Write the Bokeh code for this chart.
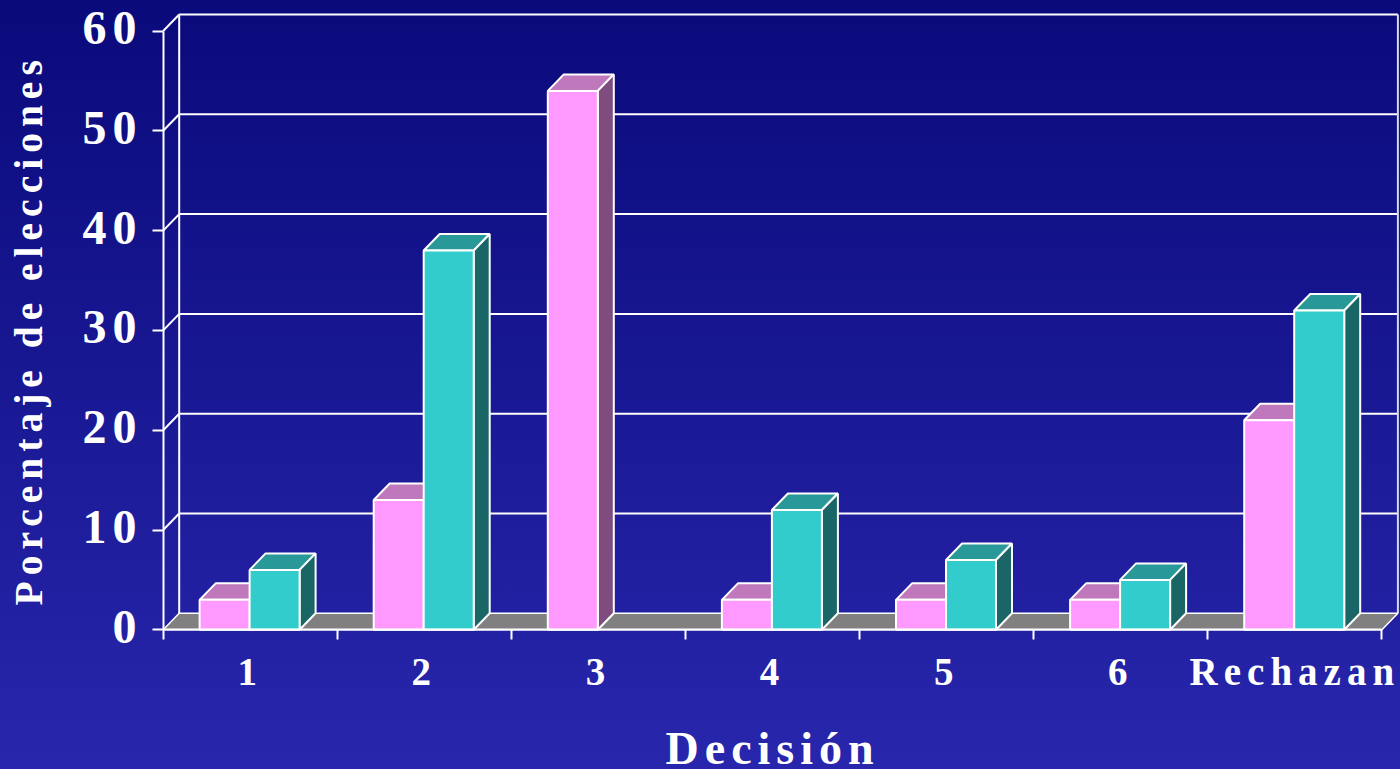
from math import pi
from bokeh.core.properties import value
from bokeh.plotting import figure
from bokeh.models import Range1d, FixedTicker, LinearAxis
from bokeh.embed import file_html
from bokeh.resources import INLINE

categories = ["1", "2", "3", "4", "5", "6", "Rechazan"]
pink_values = [3, 13, 54, 3, 3, 3, 21]
teal_values = [6, 38, None, 12, 7, 5, 32]
y_ticks = [0, 10, 20, 30, 40, 50, 60]
y_title = "Porcentaje de elecciones"
x_title = "Decisión"

PX_X = 174.1
PX_Y = 9.98
LEFT, BASE = 162.7, 629.3
W, H = 1400, 769
DEPTH_X = 16.0 / PX_X
DEPTH_Y = 16.5 / PX_Y
BAR_W = 50.0 / PX_X
BAR_START = 36.4 / PX_X
SPACING = 6
WHITE = "#ffffff"
FONT = "Liberation Serif"
X_LABEL_PX, Y_LABEL_PX, X_TITLE_PX, Y_TITLE_PX = 39, 48, 46, 39.5


def data_x(px):
    return (px - LEFT) / PX_X


def data_y(px):
    return (BASE - px) / PX_Y


p = figure(width=W, height=H, output_backend="svg", toolbar_location=None,
           x_axis_type=None, y_axis_type=None,
           x_range=Range1d(data_x(0), data_x(W)), y_range=Range1d(data_y(H), data_y(0)),
           min_border_left=0, min_border_right=0, min_border_top=0, min_border_bottom=0,
           margin=(0, 0, 0, 0),
           styles={"background": "linear-gradient(180deg, #0a0a7b 0%, #2826ac 100%)",
                   "letter-spacing": f"{SPACING}px"})
p.background_fill_color = None
p.border_fill_color = None
p.outline_line_color = None
p.grid.visible = False

n = len(categories)
top = y_ticks[-1]
upper = y_ticks[1:]

p.segment(x0=[DEPTH_X] * len(upper), y0=[t + DEPTH_Y for t in upper],
          x1=[n + DEPTH_X] * len(upper), y1=[t + DEPTH_Y for t in upper],
          line_color=WHITE, line_width=2)
p.segment(x0=[0] * len(upper), y0=upper,
          x1=[DEPTH_X] * len(upper), y1=[t + DEPTH_Y for t in upper],
          line_color=WHITE, line_width=2)
p.segment(x0=[DEPTH_X, n + DEPTH_X], y0=[DEPTH_Y, DEPTH_Y],
          x1=[DEPTH_X, n + DEPTH_X], y1=[top + DEPTH_Y, top + DEPTH_Y],
          line_color=["#ffffff", "#d8d8e8"], line_width=2)

p.patch(x=[0, n, n + DEPTH_X, DEPTH_X], y=[0, 0, DEPTH_Y, DEPTH_Y],
        fill_color="#808080", line_color=WHITE, line_width=1.5)


def draw_bars(values, slot, front, side, roof):
    xs, ys = [], []
    for i, v in enumerate(values):
        if v is None:
            continue
        xs.append(i + BAR_START + slot * BAR_W)
        ys.append(v)
    p.patches(xs=[[x, x + BAR_W, x + BAR_W + DEPTH_X, x + DEPTH_X] for x in xs],
              ys=[[v, v, v + DEPTH_Y, v + DEPTH_Y] for v in ys],
              fill_color=roof, line_color=WHITE, line_width=2)
    p.patches(xs=[[x + BAR_W, x + BAR_W + DEPTH_X, x + BAR_W + DEPTH_X, x + BAR_W] for x in xs],
              ys=[[0, DEPTH_Y, v + DEPTH_Y, v] for v in ys],
              fill_color=side, line_color=WHITE, line_width=2)
    p.quad(left=xs, right=[x + BAR_W for x in xs], bottom=[0] * len(ys), top=ys,
           fill_color=front, line_color=WHITE, line_width=2)


draw_bars(pink_values, 0, "#ff99ff", "#7f4c7f", "#c078bc")
draw_bars(teal_values, 1, "#33cccc", "#1a6666", "#289898")

bounds_ticks = list(range(n + 1))
xaxis = LinearAxis(
    fixed_location=0,
    ticker=FixedTicker(ticks=bounds_ticks),
    major_label_overrides={t: "" for t in bounds_ticks},
    bounds=(0, n),
    axis_line_color=WHITE, axis_line_width=2,
    major_tick_line_color=WHITE, major_tick_line_width=2, major_tick_in=0, major_tick_out=10,
    minor_tick_line_color=None)
yaxis = LinearAxis(
    fixed_location=0,
    ticker=FixedTicker(ticks=y_ticks),
    major_label_overrides={t: "" for t in y_ticks},
    bounds=(0, top),
    axis_line_color=WHITE, axis_line_width=2,
    major_tick_line_color=WHITE, major_tick_line_width=2, major_tick_in=0, major_tick_out=11,
    minor_tick_line_color=None)
p.add_layout(xaxis, "below")
p.add_layout(yaxis, "left")


def put_text(xs, ys, texts, size, angle=0.0):
    p.text(x=xs, y=ys, text=texts, angle=angle, text_color=WHITE, text_font=value(FONT),
           text_font_style="bold", text_font_size=value(f"{size}px"),
           text_align="left", text_baseline="alphabetic")


em_width = [4.166 if len(c) > 1 else 0.5 for c in categories]
x_starts = [i + 0.5 - (3 + (em * X_LABEL_PX + SPACING * (len(c) - 1)) / 2) / PX_X
            for i, (c, em) in enumerate(zip(categories, em_width))]
put_text(x_starts, [data_y(671)] * n, categories, X_LABEL_PX)

y_labels = [str(t) for t in y_ticks]
y_starts = [data_x(136 - len(c) * 0.5 * Y_LABEL_PX - SPACING * (len(c) - 1)) for c in y_labels]
put_text(y_starts, [t + 3 / PX_Y for t in y_ticks], y_labels, Y_LABEL_PX)

put_text([data_x(665)], [data_y(748)], [x_title], X_TITLE_PX)
put_text([data_x(28)], [data_y(605)], [y_title], Y_TITLE_PX, angle=pi / 2)

open("out.html", "w").write(file_html(p, INLINE))
